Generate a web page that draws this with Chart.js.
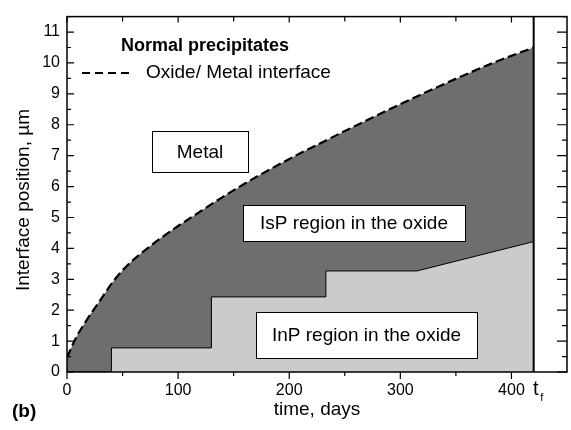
<!DOCTYPE html>
<html><head><meta charset="utf-8">
<script src="https://cdn.jsdelivr.net/npm/chart.js@4.4.1/dist/chart.umd.min.js"></script>
<style>html,body{margin:0;padding:0;background:#fff}</style>
</head><body>
<canvas id="c" width="571" height="430"></canvas>
<script>
// ---- data ----
const interfaceDays  = [0, 8, 17, 29, 41, 53, 74, 95, 116, 140, 165, 190, 209, 239, 269, 299, 329, 359, 389, 420];
const interfaceDepth = [0.47, 1.1, 1.64, 2.27, 2.9, 3.4, 4.05, 4.6, 5.1, 5.66, 6.2, 6.7, 7.06, 7.6, 8.13, 8.65, 9.15, 9.63, 10.08, 10.5];
const inpDays  = [0, 40, 40, 130, 130, 233, 233, 315, 420];
const inpDepth = [0, 0, 0.78, 0.78, 2.43, 2.43, 3.27, 3.27, 4.22];
const finalTime = 420;
const xMajorTicks = [0, 100, 200, 300, 400];
const xMinorTicks = [50, 150, 250, 350];
const yMajorTicks = [0, 1, 2, 3, 4, 5, 6, 7, 8, 9, 10, 11];
const yMinorTicks = [0.5, 1.5, 2.5, 3.5, 4.5, 5.5, 6.5, 7.5, 8.5, 9.5, 10.5, 11.5];
const xTitle = 'time, days';
const yTitle = 'Interface position, µm';
const legendTitle = 'Normal precipitates';
const legendLabel = 'Oxide/ Metal interface';
const regionNames = ['Metal', 'IsP region in the oxide', 'InP region in the oxide'];

const F = 'Arial, "Liberation Sans", Helvetica, sans-serif';
const toPts = (xs, ys) => xs.map((v, i) => ({x: v, y: ys[i]}));

const decor = {
  id: 'decor',
  afterDatasetsDraw(chart) {
    const {ctx, chartArea: a, scales: {x, y}} = chart;
    ctx.save();
    ctx.strokeStyle = '#000';
    ctx.fillStyle = '#000';
    // final time line
    const xf = x.getPixelForValue(finalTime);
    ctx.lineWidth = 2;
    ctx.beginPath(); ctx.moveTo(xf, a.bottom); ctx.lineTo(xf, a.top); ctx.stroke();
    // frame
    ctx.lineWidth = 1.5;
    ctx.strokeRect(a.left, a.top, a.right - a.left, a.bottom - a.top);
    // ticks
    ctx.lineWidth = 1.2;
    ctx.beginPath();
    xMajorTicks.forEach(v => { const p = x.getPixelForValue(v);
      ctx.moveTo(p, a.bottom); ctx.lineTo(p, a.bottom + 7);
      ctx.moveTo(p, a.top); ctx.lineTo(p, a.top + 6); });
    xMinorTicks.forEach(v => { const p = x.getPixelForValue(v);
      ctx.moveTo(p, a.bottom); ctx.lineTo(p, a.bottom + 4);
      ctx.moveTo(p, a.top); ctx.lineTo(p, a.top + 5); });
    yMajorTicks.forEach(v => { const p = y.getPixelForValue(v);
      ctx.moveTo(a.left, p); ctx.lineTo(a.left + 7, p);
      ctx.moveTo(a.right, p); ctx.lineTo(a.right - 10, p); });
    yMinorTicks.forEach(v => { const p = y.getPixelForValue(v);
      ctx.moveTo(a.left, p); ctx.lineTo(a.left + 4, p);
      ctx.moveTo(a.right, p); ctx.lineTo(a.right - 5, p); });
    ctx.stroke();
    // region boxes
    const boxes = [
      {t: regionNames[0], l: 152, tp: 131, r: 248, b: 172, s: 19},
      {t: regionNames[1], l: 243, tp: 205, r: 465, b: 241, s: 19},
      {t: regionNames[2], l: 256, tp: 312, r: 477, b: 358, s: 19}
    ];
    boxes.forEach(bx => {
      ctx.fillStyle = '#fff';
      ctx.fillRect(bx.l, bx.tp, bx.r - bx.l, bx.b - bx.tp);
      ctx.lineWidth = 1;
      ctx.strokeRect(bx.l + 0.5, bx.tp + 0.5, bx.r - bx.l, bx.b - bx.tp);
      ctx.fillStyle = '#000';
      ctx.font = bx.s + 'px ' + F;
      ctx.textAlign = 'center'; ctx.textBaseline = 'middle';
      ctx.fillText(bx.t, (bx.l + bx.r) / 2, (bx.tp + bx.b) / 2 + 1);
    });
    // legend
    ctx.fillStyle = '#000';
    ctx.textAlign = 'left'; ctx.textBaseline = 'middle';
    ctx.font = 'bold 18px ' + F;
    ctx.fillText(legendTitle, 121, 46);
    ctx.font = '19px ' + F;
    ctx.fillText(legendLabel, 146, 73);
    ctx.lineWidth = 2;
    ctx.setLineDash([8, 5]);
    ctx.beginPath(); ctx.moveTo(82, 73); ctx.lineTo(134, 73); ctx.stroke();
    ctx.setLineDash([]);
    // y title
    ctx.save();
    ctx.translate(24, 200); ctx.rotate(-Math.PI / 2);
    ctx.textAlign = 'center'; ctx.textBaseline = 'middle';
    ctx.font = '19px ' + F;
    ctx.fillText(yTitle, 0, 0);
    ctx.restore();
    // t_f label
    ctx.textAlign = 'center'; ctx.textBaseline = 'middle';
    ctx.font = '20px ' + F;
    ctx.fillText('t', xf + 2, 389);
    ctx.font = '11px ' + F;
    ctx.fillText('f', xf + 8, 398);
    // (b)
    ctx.font = 'bold 19px ' + F;
    ctx.textAlign = 'left';
    ctx.fillText('(b)', 12, 412);
    ctx.restore();
  }
};

new Chart(document.getElementById('c'), {
  type: 'line',
  data: {
    datasets: [
      {
        label: regionNames[2],
        data: toPts(inpDays, inpDepth),
        fill: 'origin',
        backgroundColor: '#cbcbcb',
        borderColor: '#000',
        borderWidth: 1,
        pointRadius: 0,
        tension: 0
      },
      {
        label: legendLabel,
        data: toPts(interfaceDays, interfaceDepth),
        fill: 'origin',
        backgroundColor: '#6e6e6e',
        borderColor: '#000',
        borderWidth: 2.2,
        borderDash: [9, 4],
        pointRadius: 0,
        cubicInterpolationMode: 'monotone'
      }
    ]
  },
  options: {
    responsive: false,
    animation: false,
    devicePixelRatio: 1,
    layout: {padding: {left: 0, right: 4, top: 7, bottom: 0}},
    plugins: {legend: {display: false}, tooltip: {enabled: false}},
    scales: {
      x: {
        type: 'linear', min: 0, max: 450,
        afterFit(s) { s.height = 58; },
        grid: {display: false, drawTicks: false},
        border: {display: false},
        ticks: {stepSize: 100, includeBounds: false, padding: 9, color: '#000', maxRotation: 0,
                font: {size: 16, family: F}},
        title: {display: true, text: xTitle, color: '#000', font: {size: 19, family: F},
                padding: {top: 0, bottom: 9}}
      },
      y: {
        type: 'linear', min: 0, max: 11.5,
        afterFit(s) { s.width = 67; },
        grid: {display: false, drawTicks: false},
        border: {display: false},
        ticks: {stepSize: 1, includeBounds: false, padding: 7, color: '#000',
                font: {size: 16, family: F}}
      }
    }
  },
  plugins: [decor]
});
</script>
</body></html>
